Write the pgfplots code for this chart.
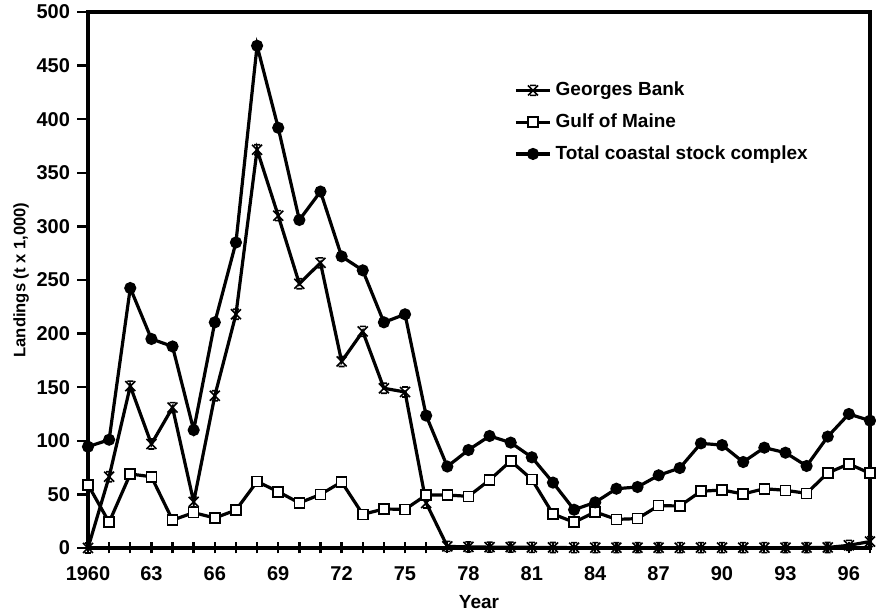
\documentclass[border=0pt]{standalone}
\usepackage{pgfplots}
\pgfplotsset{compat=1.18}
\usepackage{fontspec}
\setmainfont{Liberation Sans}
\usetikzlibrary{calc}
\pgfdeclareplotmark{xstar}{%
  \pgfpathmoveto{\pgfqpoint{-\pgfplotmarksize}{-\pgfplotmarksize}}%
  \pgfpathlineto{\pgfqpoint{\pgfplotmarksize}{\pgfplotmarksize}}%
  \pgfpathmoveto{\pgfqpoint{-\pgfplotmarksize}{\pgfplotmarksize}}%
  \pgfpathlineto{\pgfqpoint{\pgfplotmarksize}{-\pgfplotmarksize}}%
  \pgfpathmoveto{\pgfqpoint{-0.6\pgfplotmarksize}{\pgfplotmarksize}}%
  \pgfpathlineto{\pgfqpoint{0.6\pgfplotmarksize}{\pgfplotmarksize}}%
  \pgfpathmoveto{\pgfqpoint{-0.6\pgfplotmarksize}{-\pgfplotmarksize}}%
  \pgfpathlineto{\pgfqpoint{0.6\pgfplotmarksize}{-\pgfplotmarksize}}%
  \pgfusepathqstroke}

\pgfplotstableread{
year georges gulf total
1960 0 59 94.5
1961 66.5 24 101
1962 151 69 242.5
1963 97 66.5 195
1964 131 26 188
1965 43 33 110
1966 142 28 210.5
1967 218 35.4 285
1968 371.5 62 468.5
1969 310 52.5 392
1970 246.5 42 306
1971 266 50 332.5
1972 174 61.6 272
1973 202 31.4 259
1974 149 36.4 210.5
1975 145.5 36 218
1976 42 49.4 123.5
1977 1.5 49.4 76
1978 1 48.2 91.4
1979 0.8 63.4 104.5
1980 0.8 81.2 98.3
1981 0.6 64 84.6
1982 0.5 31.7 61
1983 0.3 24 35.7
1984 0.3 33.6 42.6
1985 0.3 26.7 55.3
1986 0.3 27.4 56.9
1987 0.3 39.5 67.8
1988 0.3 39.2 74.6
1989 0.3 52.9 97.6
1990 0.3 54.1 96
1991 0.3 50.4 80.2
1992 0.3 55.3 93.6
1993 0.3 53.8 88.9
1994 0.4 51 76.5
1995 0.5 70 103.9
1996 2.5 78.4 125
1997 6 69.7 118.8
}\datatable

\begin{document}
\begin{tikzpicture}
\begin{axis}[name=ax, scale only axis, width=391pt, height=268pt,
  xmin=1960, xmax=1997, ymin=0, ymax=500,
  axis line style={line width=1.6pt},
  clip=false,
  font=\fontsize{10}{12}\selectfont\bfseries,
  /pgf/number format/assume math mode=true,
  xtick={1960,...,1997},
  xticklabels={1960,,,63,,,66,,,69,,,72,,,75,,,78,,,81,,,84,,,87,,,90,,,93,,,96,},
  ytick={0,50,...,500},
  xtick pos=bottom, ytick pos=left,
  xtick align=center, ytick align=outside,
  major tick length=5.5pt,
  tick style={line width=1.2pt, black},
  xticklabel style={font=\fontsize{10}{12}\selectfont\bfseries, yshift=-3pt},
  yticklabel style={font=\fontsize{10}{12}\selectfont\bfseries},
  xlabel={Year},
  ylabel={Landings (t x 1,000)},
  xlabel style={font=\fontsize{9.5}{11}\selectfont\bfseries, yshift=-0.5pt},
  ylabel style={font=\fontsize{8.3}{10}\selectfont\bfseries},
  ylabel shift=-3pt,
  legend cell align=left,
  legend style={draw=none, fill=none, at={(rel axis cs:0.537,0.885)}, anchor=north west,
    font=\fontsize{9.5}{11}\selectfont\bfseries, row sep=3.5pt},
  every axis plot/.append style={line width=1.6pt, black},
]
\addplot[mark=xstar, mark size=2.5pt, mark options={line width=0.8pt, solid}] table[x=year, y=georges] {\datatable};
\addlegendentry{Georges Bank}
\addplot[mark=square*, mark size=2.5pt, mark options={line width=0.8pt, fill=white, solid}] table[x=year, y=gulf] {\datatable};
\addlegendentry{Gulf of Maine}
\addplot[mark=*, mark size=2.2pt, mark options={solid}] table[x=year, y=total] {\datatable};
\addlegendentry{Total coastal stock complex}
\end{axis}
\pgfresetboundingbox
\path[use as bounding box] ($(ax.south west)+(-44pt,-32.5pt)$) rectangle ($(ax.north east)+(3pt,6pt)$);
\end{tikzpicture}
\end{document}
